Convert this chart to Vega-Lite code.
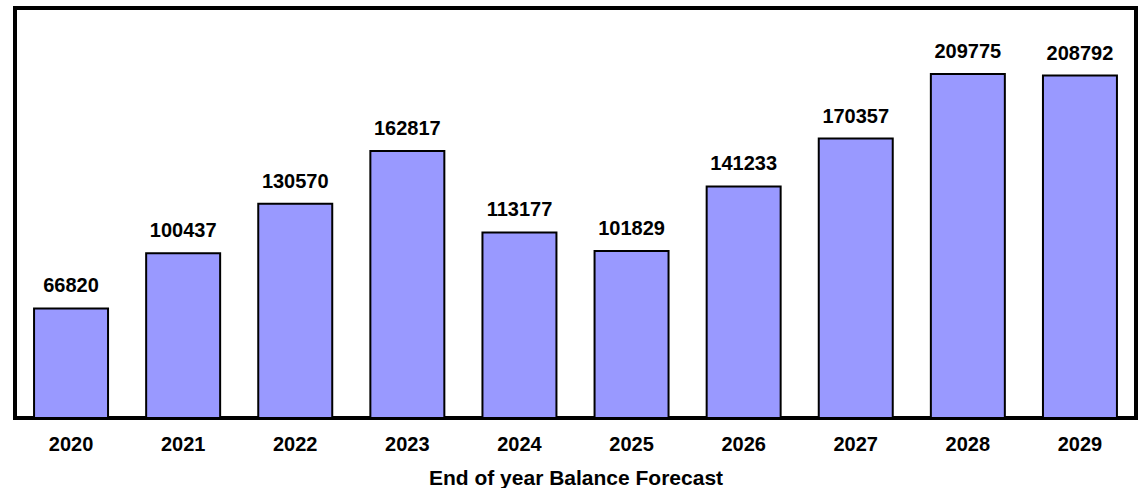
{
  "$schema": "https://vega.github.io/schema/vega-lite/v6.json",
  "autosize": "none",
  "padding": {"left": 15, "top": 8, "right": 11, "bottom": 70},
  "width": 1121,
  "height": 410,
  "config": {
    "view": {"stroke": "#000000", "strokeWidth": 4},
    "font": "Liberation Sans"
  },
  "data": {
    "values": [
      {"year": "2020", "balance": 66820},
      {"year": "2021", "balance": 100437},
      {"year": "2022", "balance": 130570},
      {"year": "2023", "balance": 162817},
      {"year": "2024", "balance": 113177},
      {"year": "2025", "balance": 101829},
      {"year": "2026", "balance": 141233},
      {"year": "2027", "balance": 170357},
      {"year": "2028", "balance": 209775},
      {"year": "2029", "balance": 208792}
    ]
  },
  "encoding": {
    "x": {
      "field": "year",
      "type": "ordinal",
      "scale": {"paddingInner": 0.34, "paddingOuter": 0.17},
      "axis": {
        "title": "End of year Balance Forecast",
        "titleFont": "Liberation Sans",
        "titleFontSize": 21,
        "titleFontWeight": "bold",
        "titleColor": "#000000",
        "titlePadding": 13,
        "labelFont": "Liberation Sans",
        "labelFontSize": 20,
        "labelFontWeight": "bold",
        "labelColor": "#000000",
        "labelAngle": 0,
        "labelPadding": 16,
        "ticks": false,
        "domain": false
      }
    },
    "y": {
      "field": "balance",
      "type": "quantitative",
      "scale": {"domain": [0, 250000]},
      "axis": null
    }
  },
  "layer": [
    {
      "mark": {"type": "bar", "fill": "#9999FF", "stroke": "#000000", "strokeWidth": 2}
    },
    {
      "mark": {"type": "text", "font": "Liberation Sans", "fontSize": 20, "fontWeight": "bold", "color": "#000000", "baseline": "alphabetic", "dy": -16},
      "encoding": {"text": {"field": "balance", "type": "quantitative", "format": "d"}}
    }
  ]
}
